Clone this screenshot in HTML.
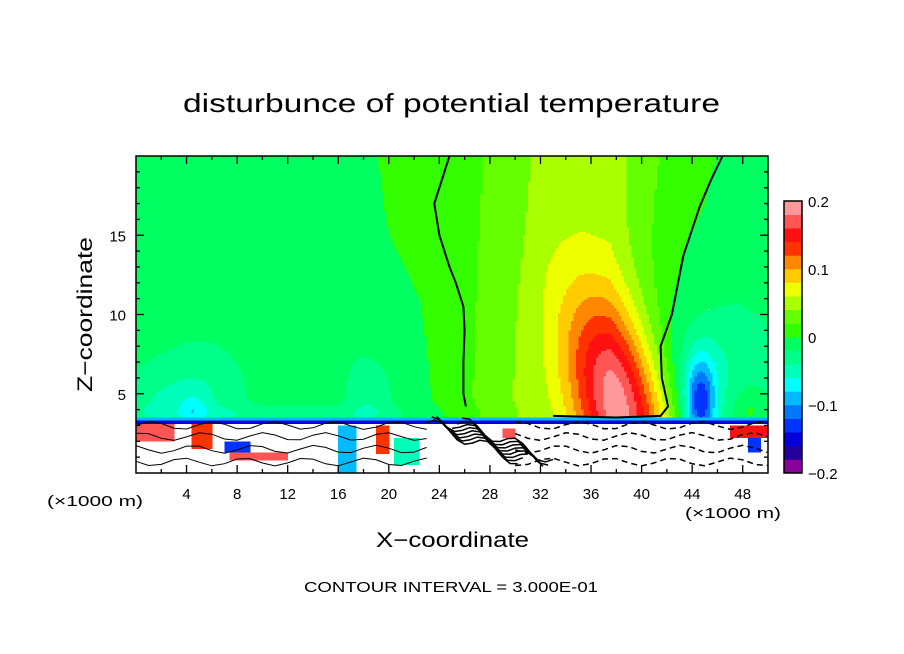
<!DOCTYPE html>
<html><head><meta charset="utf-8"><style>
body{margin:0;background:#fff;}
svg{display:block;font-family:"Liberation Sans",sans-serif;}
</style></head><body>
<svg id="chart" width="904" height="654" viewBox="0 0 904 654" xmlns="http://www.w3.org/2000/svg">
<rect width="904" height="654" fill="#fff"/>
<text x="183" y="112" font-size="26" textLength="537" lengthAdjust="spacingAndGlyphs">disturbunce of potential temperature</text>
<g id="field" shape-rendering="crispEdges"></g>
<g id="lines" fill="none" stroke="#000"></g>
<rect x="136" y="156" width="632" height="317" fill="none" stroke="#000" stroke-width="1.5"/>
<g id="axes" font-size="16"></g>
<g id="cbar"></g>
<text x="376" y="547" font-size="21" textLength="153" lengthAdjust="spacingAndGlyphs">X−coordinate</text>
<text transform="translate(92,392) rotate(-90)" font-size="21" textLength="155" lengthAdjust="spacingAndGlyphs">Z−coordinate</text>
<text x="47" y="506" font-size="15" textLength="96" lengthAdjust="spacingAndGlyphs">(×1000 m)</text>
<text x="685" y="518" font-size="15" textLength="96" lengthAdjust="spacingAndGlyphs">(×1000 m)</text>
<text x="304" y="592" font-size="15" textLength="294" lengthAdjust="spacingAndGlyphs">CONTOUR INTERVAL = 3.000E-01</text>
</svg>
<script>
// background value columns (x every 2.5 km), at z=20 (top) and z=5 (low)
const baseXs = [0,2.5,5,7.5,10,12.5,15,17.5,20,22.5,25,27.5,30,32.5,35,37.5,40,42.5,45,47.5,50];
const baseTop = [-0.01,-0.01,-0.01,-0.01,-0.01,-0.01,-0.01,-0.01,0.005,0.008,0.01,0.02,0.03,0.05,0.05,0.05,0.03,0.012,0.005,-0.01,-0.01];
const baseLow = [-0.01,-0.01,-0.01,-0.01,-0.01,-0.01,-0.01,-0.015,-0.01,-0.005,0.01,0.025,0.04,0.045,0.05,0.05,0.02,-0.01,-0.02,-0.02,-0.02];
// gaussian blobs: x, z, amplitude, sx, sz, tilt (dx per km of z)
const blobX = [38.5,5,4.5,1,18.5,12,44.6,45.5,48.5];
const blobZ = [4.0,5,4,4.5,5,3.7,4.3,7,4];
const blobA = [0.15,-0.03,-0.03,-0.02,-0.025,-0.02,-0.115,-0.022,0.025];
const blobSX = [2.6,2.5,0.8,2,1.2,8,0.9,2.6,0.8];
const blobSZ = [4.8,2.2,0.7,1.5,1.5,0.4,2.0,2.2,1];
const blobTilt = [-0.3,0,0,0,0,0,0,0,0];
// lower-layer colored patches: x0,x1,z0,z1,value
const patchX0 = [0,4.5,7,7.5,16,16.5,19,20.5,29,47,48.5];
const patchX1 = [3,6,9,12,17.5,17.3,20,22.5,30,50,49.5];
const patchZ0 = [2,1.5,1.3,0.8,0,0.5,1.2,0.5,2.2,2.2,1.3];
const patchZ1 = [3.1,3.1,2,1.3,3,2.5,3,2.2,2.8,3,2.2];
const patchV = [0.17,0.13,-0.13,0.17,-0.1,-0.05,0.12,-0.06,0.17,0.15,-0.14];
// colorbar levels (-0.2 .. 0.2, step 0.02)
const levelColors = ["#880099","#220099","#0000dd","#0033ff","#0077ff","#00bbff","#00ffff","#00ffbb","#00ff88","#00ff60","#33ff00","#66ff00","#aaff00","#eeff00","#ffcc00","#ff8800","#ff3300","#ff1111","#ff5555","#ff9999"];
const cbarTicks = [-0.2,-0.1,0,0.1,0.2];
const cbarLabels = ["−0.2","−0.1","0","0.1","0.2"];
const xTicks = [4,8,12,16,20,24,28,32,36,40,44,48];
const yTicks = [5,10,15];
// zero contours
const c1x = [24.8,24.2,23.6,24,24.8,25.3,25.9,26,25.9,25.9,26.1];
const c1z = [20,18.5,17,15,13,12,10.5,9,7,5,4.2];
const c2x = [46.4,45.5,44.6,43.3,42.4,41.5,41.6,42.1,41.5,38,33];
const c2z = [20,18.5,16.8,13.7,10,8,6,4.2,3.6,3.5,3.6];

const NS="http://www.w3.org/2000/svg";
const px = x => 136 + x*632/50;
const pz = z => 473 - z*317/20;
function interp(arr,x){
  let i=Math.min(baseXs.length-2,Math.floor(x/2.5)), t=(x-baseXs[i])/2.5;
  return arr[i]*(1-t)+arr[i+1]*t;
}
function val(x,z){
  if(z<3.15){
    for(let i=0;i<patchV.length;i++){
      if(x>=patchX0[i]&&x<patchX1[i]&&z>=patchZ0[i]&&z<patchZ1[i]) return patchV[i];
    }
    return NaN;
  }
  if(z<3.35) return -0.15;
  if(z<3.5) return -0.09;
  const lo=interp(baseLow,x), hi=interp(baseTop,x);
  const t=Math.max(0,Math.min(1,(z-5)/15));
  let v=lo*(1-t)+hi*t;
  for(let k=0;k<blobA.length;k++){
    const cx=blobX[k]+blobTilt[k]*(z-blobZ[k]);
    const dx=(x-cx)/blobSX[k], dz=(z-blobZ[k])/blobSZ[k];
    v+=blobA[k]*Math.exp(-0.5*(dx*dx+dz*dz));
  }
  return v;
}
function color(v){
  if(isNaN(v)||v>0.2||v<-0.2) return null;
  let b=Math.floor((v+0.2)/0.02); b=Math.max(0,Math.min(19,b));
  return levelColors[b];
}
const field=document.getElementById('field');
const dx=0.2, dz=0.1, nz=200;
function addRect(x,z0,z1,c){
  const r=document.createElementNS(NS,'rect');
  
  
  r.setAttribute('x',px(x).toFixed(2));r.setAttribute('y',pz(z1).toFixed(2));
  r.setAttribute('width',(632*dx/50+0.5).toFixed(2));r.setAttribute('height',(pz(z0)-pz(z1)).toFixed(2));
  r.setAttribute('fill',c);
  field.appendChild(r);
}
for(let i=0;i<250;i++){
  const x=i*dx;
  let cur=null,start=0;
  for(let j=0;j<=nz;j++){
    const c = j<nz ? color(val(x+dx/2,j*dz+dz/2)) : '__end';
    if(c!==cur){
      if(cur && cur!=='__end') addRect(x,start*dz,j*dz,cur);
      cur=c;start=j;
    }
  }
}
const lines=document.getElementById('lines');
function poly(xs,zs,w,name,dash){
  const p=document.createElementNS(NS,'polyline');
  
  
  p.setAttribute('points',xs.map((x,i)=>px(x).toFixed(1)+','+pz(zs[i]).toFixed(1)).join(' '));
  p.setAttribute('stroke-width',w);
  if(dash) p.setAttribute('stroke-dasharray',dash);
  lines.appendChild(p);
}
poly(c1x,c1z,2,'zero-contour-left');
poly(c2x,c2z,2,'zero-contour-right');
const lowZ=[3.0,2.3,1.5,0.7];
lowZ.forEach((z,j)=>{
  const xs=[],zs=[];
  for(let x=0;x<=50;x+=1){xs.push(x);zs.push(z+0.25*Math.sin(x*1.3+j));}
  poly(xs.slice(0,24),zs.slice(0,24),1,'lower-contour-solid');
  poly(xs.slice(30),zs.slice(30),1.5,'lower-contour-dashed','6,4');
});
for(let k=0;k<8;k++){
  const xs=[],zs=[];
  for(let t=0;t<=12;t++){xs.push(23+k*0.4+t*0.6);zs.push(3.2-t*0.2+0.4*Math.sin(t+k));}
  poly(xs,zs,1.5,'dense-contour');
}
function txt(parent,x,y,s,anchor,size,name){
  const t=document.createElementNS(NS,'text');
  
  
  t.setAttribute('x',x);t.setAttribute('y',y);
  t.setAttribute('text-anchor',anchor);t.setAttribute('font-size',size);
  t.textContent=s;parent.appendChild(t);return t;
}
txt(lines,px(28),pz(3.6),'0.00','middle',15,'contour-label').setAttribute('stroke','none');
txt(lines,px(6.5),pz(2.6),'0.00','middle',15,'contour-label').setAttribute('stroke','none');
txt(lines,px(44.5),pz(2.6),'0.00','middle',15,'contour-label').setAttribute('stroke','none');
const axes=document.getElementById('axes');
function tick(x1,y1,x2,y2,name){
  const l=document.createElementNS(NS,'line');
  
  
  l.setAttribute('x1',x1);l.setAttribute('x2',x2);l.setAttribute('y1',y1);l.setAttribute('y2',y2);
  l.setAttribute('stroke','#000');l.setAttribute('stroke-width',1.3);axes.appendChild(l);
}
for(let v=2;v<50;v+=2){
  const L = v%4===0 ? 8 : 4;
  tick(px(v),473,px(v),473-L,'x-tick');
  tick(px(v),156,px(v),156+L,'x-tick-top');
}
for(let v=1;v<20;v++){
  const L = v%5===0 ? 8 : 4;
  tick(136,pz(v),136+L,pz(v),'y-tick');
  tick(768,pz(v),768-L,pz(v),'y-tick-right');
}
xTicks.forEach(v=>txt(axes,px(v),499,String(v),'middle',15,'x-tick-label'));
yTicks.forEach(v=>txt(axes,126,pz(v)+6,String(v),'end',15,'y-tick-label'));
const cbar=document.getElementById('cbar');
const cy=v=>473-(v+0.2)*272/0.4;
levelColors.forEach((c,i)=>{
  const r=document.createElementNS(NS,'rect');
  
  
  const v0=-0.2+i*0.02;
  r.setAttribute('x',784);r.setAttribute('y',cy(v0+0.02));
  r.setAttribute('width',18);r.setAttribute('height',272/20+0.3);
  r.setAttribute('fill',c);cbar.appendChild(r);
});
const fr=document.createElementNS(NS,'rect');


fr.setAttribute('x',784);fr.setAttribute('y',201);fr.setAttribute('width',18);fr.setAttribute('height',272);
fr.setAttribute('fill','none');fr.setAttribute('stroke','#000');fr.setAttribute('stroke-width',1.5);
cbar.appendChild(fr);
cbarTicks.forEach((v,i)=>txt(cbar,808,cy(v)+6,cbarLabels[i],'start',15,'colorbar-label'));
</script>
</body></html>
